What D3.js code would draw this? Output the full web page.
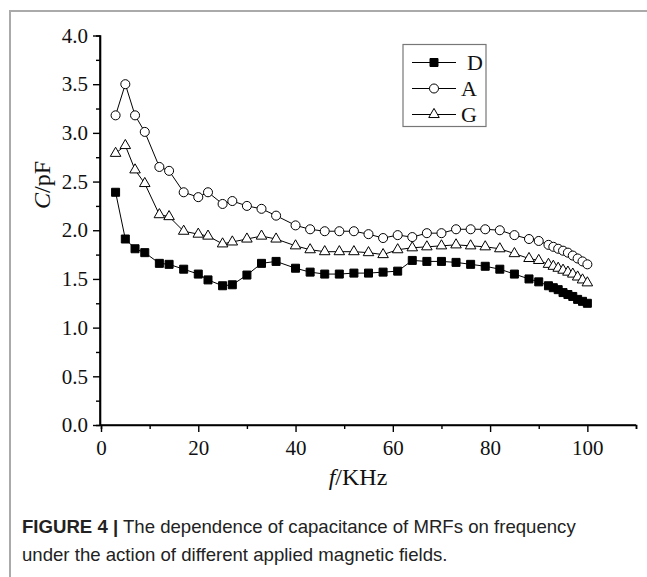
<!DOCTYPE html>
<html>
<head>
<meta charset="utf-8">
<script src="https://cdn.jsdelivr.net/npm/d3@7"></script>
<style>
  html, body { margin: 0; padding: 0; background: #fff; }
  svg { display: block; }
</style>
</head>
<body>
<svg id="chart" width="647" height="577"></svg>
<script>
// ---- data ----
const freq = [3,5,7,9,12,14,17,20,22,25,27,30,33,36,40,43,46,49,52,55,58,61,64,67,70,73,76,79,82,85,88,90,92,93,94,95,96,97,98,99,100];
const seriesD = [2.39,1.91,1.81,1.77,1.66,1.65,1.60,1.55,1.49,1.43,1.44,1.54,1.66,1.68,1.61,1.57,1.55,1.55,1.56,1.56,1.57,1.58,1.69,1.68,1.68,1.67,1.65,1.63,1.60,1.55,1.50,1.47,1.43,1.41,1.39,1.36,1.34,1.32,1.29,1.27,1.25];
const seriesA = [3.18,3.50,3.18,3.01,2.65,2.61,2.39,2.34,2.39,2.27,2.30,2.25,2.22,2.15,2.05,2.01,1.99,1.99,1.99,1.96,1.92,1.95,1.93,1.97,1.97,2.01,2.01,2.01,2.00,1.95,1.91,1.89,1.85,1.83,1.81,1.79,1.77,1.74,1.71,1.68,1.65];
const seriesG = [2.79,2.87,2.62,2.48,2.16,2.14,1.99,1.96,1.94,1.86,1.88,1.91,1.94,1.91,1.84,1.80,1.78,1.78,1.78,1.77,1.75,1.80,1.82,1.83,1.84,1.85,1.84,1.83,1.81,1.76,1.71,1.69,1.65,1.63,1.61,1.59,1.57,1.55,1.52,1.49,1.46];
const seriesNames = ["D","A","G"];
const xMajorTicks = [0,20,40,60,80,100];
const xMinorTicks = [10,30,50,70,90,110];
const yMajorTicks = [0,0.5,1.0,1.5,2.0,2.5,3.0,3.5,4.0];
const yMinorTicks = [0.25,0.75,1.25,1.75,2.25,2.75,3.25,3.75];
const captionBold = "FIGURE 4 |";
const captionLine1 = " The dependence of capacitance of MRFs on frequency";
const captionLine2 = "under the action of different applied magnetic fields.";

const svg = d3.select("#chart");
const serif = "'Liberation Serif','Times New Roman',serif";
const sans = "'Liberation Sans',Arial,sans-serif";

// figure frame (grey top and left rules)
svg.append("line").attr("x1",10).attr("x2",647).attr("y1",11).attr("y2",11)
  .attr("stroke","#aaa").attr("stroke-width",2);
svg.append("line").attr("x1",10).attr("x2",10).attr("y1",10).attr("y2",577)
  .attr("stroke","#aaa").attr("stroke-width",2);

const x = d3.scaleLinear().domain([0,110]).range([101,636]);
const y = d3.scaleLinear().domain([0,4]).range([425,35.5]);
const x0 = 100, y0 = 425;

// axes
const gx = svg.append("g").attr("transform",`translate(0,${y0})`);
gx.call(d3.axisBottom(x).tickValues(xMajorTicks).tickSize(7).tickPadding(8).tickFormat(d3.format("d")));
gx.append("g").call(d3.axisBottom(x).tickValues(xMinorTicks).tickSize(4).tickFormat(""));
const gy = svg.append("g").attr("transform",`translate(${x0},0)`);
gy.call(d3.axisLeft(y).tickValues(yMajorTicks).tickSize(7).tickPadding(5).tickFormat(d3.format(".1f")));
gy.append("g").call(d3.axisLeft(y).tickValues(yMinorTicks).tickSize(4).tickFormat(""));
svg.selectAll(".domain").attr("stroke","#000").attr("stroke-width",1.6);
svg.selectAll(".tick line").attr("stroke","#000").attr("stroke-width",1.4);
svg.selectAll(".tick text").attr("font-family",serif).attr("font-size",21).attr("fill","#111");
gy.select(".domain").attr("d",`M0,${y(4)}V${y0}`);
gx.select(".domain").attr("d",`M${x0},0H${x(110)}`);

// axis titles
const xt = svg.append("text").attr("x",358).attr("y",485).attr("text-anchor","middle")
  .attr("font-family",serif).attr("font-size",24).attr("fill","#111");
xt.append("tspan").attr("font-style","italic").text("f");
xt.append("tspan").text("/KHz");
const yt = svg.append("text").attr("transform","translate(50,185) rotate(-90)").attr("text-anchor","middle")
  .attr("font-family",serif).attr("font-size",24).attr("fill","#111");
yt.append("tspan").attr("font-style","italic").text("C");
yt.append("tspan").text("/pF");

// series
const series = [seriesD, seriesA, seriesG];
const line = d3.line().x((d,i)=>x(freq[i])).y(d=>y(d));
const sym = [d3.symbolSquare, d3.symbolCircle, d3.symbolTriangle];
const symSize = [64, 64, 48];
const symFill = ["#000","#fff","#fff"];

series.forEach((vals, k) => {
  svg.append("path").datum(vals).attr("d", line).attr("fill","none")
    .attr("stroke","#000").attr("stroke-width",1);
});
series.forEach((vals, k) => {
  svg.append("g").selectAll("path").data(vals).join("path")
    .attr("d", d3.symbol().type(sym[k]).size(symSize[k]))
    .attr("transform",(d,i)=>`translate(${x(freq[i])},${y(d)})`)
    .attr("fill",symFill[k]).attr("stroke","#000").attr("stroke-width",1);
});

// legend
const lg = svg.append("g");
lg.append("rect").attr("x",403).attr("y",44.5).attr("width",83).attr("height",82)
  .attr("fill","#fff").attr("stroke","#777").attr("stroke-width",1.2);
const rows = [62.5, 88.5, 114.5];
seriesNames.forEach((name,k) => {
  lg.append("line").attr("x1",412).attr("x2",456).attr("y1",rows[k]).attr("y2",rows[k])
    .attr("stroke","#000").attr("stroke-width",1);
  lg.append("path").attr("d", d3.symbol().type(sym[k]).size(symSize[k]))
    .attr("transform",`translate(434,${rows[k]})`)
    .attr("fill",symFill[k]).attr("stroke","#000").attr("stroke-width",1);
  lg.append("text").attr("x", k===0 ? 467 : 461).attr("y",rows[k]+7.5)
    .attr("font-family",serif).attr("font-size",22).attr("fill","#111").text(name);
});

// caption
const c1 = svg.append("text").attr("x",22).attr("y",533).attr("font-family",sans)
  .attr("font-size",18.6).attr("fill","#222");
c1.append("tspan").attr("font-weight","bold").text(captionBold);
c1.append("tspan").text(captionLine1);
svg.append("text").attr("x",22).attr("y",561).attr("font-family",sans)
  .attr("font-size",18.6).attr("fill","#222").text(captionLine2);
</script>
</body>
</html>
